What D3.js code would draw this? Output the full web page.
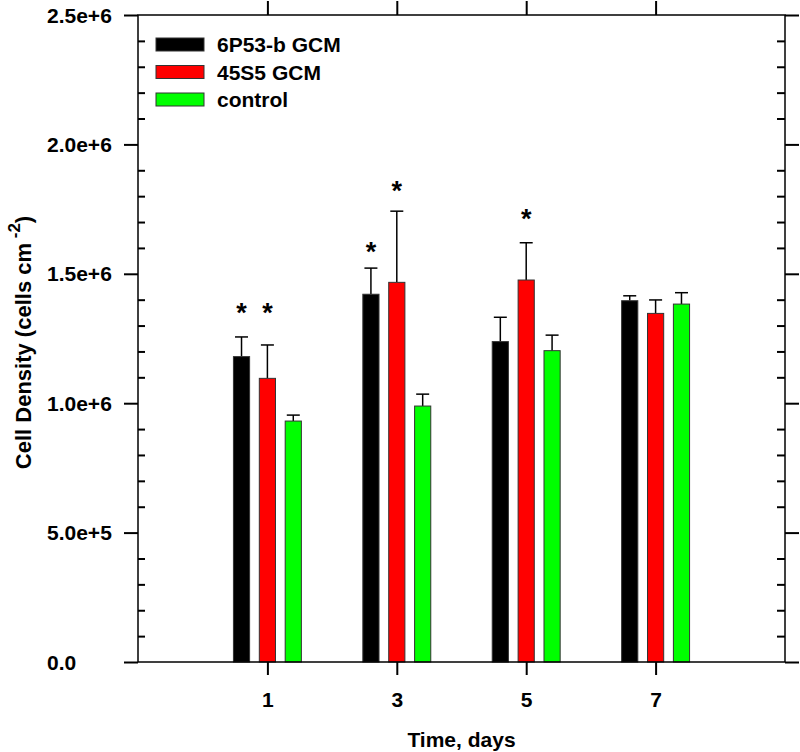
<!DOCTYPE html>
<html>
<head>
<meta charset="utf-8">
<script src="https://cdn.jsdelivr.net/npm/d3@7"></script>
<style>
  html, body { margin: 0; padding: 0; background: #fff; }
  svg { display: block; font-family: "Liberation Sans", Arial, sans-serif; }
</style>
</head>
<body>
<svg id="chart" width="800" height="752"></svg>
<script>
// ---- data ----
const days = [1, 3, 5, 7];
const seriesNames = ["6P53-b GCM", "45S5 GCM", "control"];
const seriesColors = ["#000000", "#ff0000", "#00ff00"];
const mean6P53 = [1180000, 1421000, 1238000, 1396000];
const err6P53  = [76000, 101000, 94000, 19000];
const mean45S5 = [1096000, 1467000, 1476000, 1347000];
const err45S5  = [129000, 275000, 144000, 52000];
const meanCtrl = [931000, 989000, 1203000, 1383000];
const errCtrl  = [23000, 46000, 60000, 44000];
// significance markers: [series index, day index, level of the asterisk]
const stars = [[0, 0, 1372000], [1, 0, 1372000], [0, 1, 1607000], [1, 1, 1843000], [1, 2, 1735000]];
const yMajorTicks = [0, 500000, 1000000, 1500000, 2000000, 2500000];
const yTickLabels = ["0.0", "5.0e+5", "1.0e+6", "1.5e+6", "2.0e+6", "2.5e+6"];
const xTickValues = [1, 3, 5, 7];

const means = [mean6P53, mean45S5, meanCtrl];
const errs = [err6P53, err45S5, errCtrl];

// ---- layout ----
const L = 138, R = 785, T = 15, B = 662;
const svg = d3.select("#chart");
const x = d3.scaleLinear().domain([-1, 9]).range([L, R]);
const y = d3.scaleLinear().domain([0, 2500000]).range([B, T]);
const offsets = [-0.4, 0, 0.4];
const barW = 0.25;

const yMinor = d3.range(0, 2500001, 100000).filter(v => v % 500000 !== 0);

// bars
const bars = [];
means.forEach((arr, s) => arr.forEach((v, i) => bars.push({s, i, v, e: errs[s][i]})));

// error bars
const eg = svg.append("g");
bars.forEach(d => {
  const cx = x(days[d.i] + offsets[d.s]);
  eg.append("line").attr("x1", cx).attr("x2", cx)
    .attr("y1", y(d.v)).attr("y2", y(d.v + d.e))
    .attr("stroke", "#000").attr("stroke-width", 1.5);
  eg.append("line").attr("x1", cx - 6.5).attr("x2", cx + 6.5)
    .attr("y1", y(d.v + d.e)).attr("y2", y(d.v + d.e))
    .attr("stroke", "#000").attr("stroke-width", 1.5);
});

svg.append("g").selectAll("rect").data(bars).join("rect")
  .attr("x", d => x(days[d.i] + offsets[d.s] - barW / 2))
  .attr("width", d => x(barW) - x(0))
  .attr("y", d => y(d.v))
  .attr("height", d => y(0) - y(d.v))
  .attr("fill", d => seriesColors[d.s])
  .attr("stroke", "#333")
  .attr("stroke-width", 1);

// asterisks
svg.append("g").selectAll("text").data(stars).join("text")
  .attr("x", d => x(days[d[1]] + offsets[d[0]]))
  .attr("y", d => y(d[2]) + 15)
  .attr("text-anchor", "middle")
  .attr("font-size", 27)
  .attr("font-weight", "bold")
  .text("*");

// ---- axes ----
function styleAxis(g) {
  g.select(".domain").remove();
  g.selectAll(".tick line").attr("stroke", "#000").attr("stroke-width", 2);
}
// left major (outward)
styleAxis(svg.append("g").attr("transform", `translate(${L},0)`)
  .call(d3.axisLeft(y).tickValues(yMajorTicks).tickSize(14).tickFormat("")));
// left labels, left-aligned
svg.append("g").selectAll("text").data(yMajorTicks).join("text")
  .attr("x", 47).attr("y", d => y(d)).attr("dy", "0.36em")
  .attr("font-size", 21).attr("font-weight", "bold")
  .text((d, i) => yTickLabels[i]);
// left minor (inward)
styleAxis(svg.append("g").attr("transform", `translate(${L},0)`)
  .call(d3.axisRight(y).tickValues(yMinor).tickSize(7).tickFormat("")));
// right major (outward)
styleAxis(svg.append("g").attr("transform", `translate(${R},0)`)
  .call(d3.axisRight(y).tickValues(yMajorTicks).tickSize(14).tickFormat("")));
// right minor (inward)
styleAxis(svg.append("g").attr("transform", `translate(${R},0)`)
  .call(d3.axisLeft(y).tickValues(yMinor).tickSize(8).tickFormat("")));
// bottom
const gb = svg.append("g").attr("transform", `translate(0,${B})`)
  .call(d3.axisBottom(x).tickValues(xTickValues).tickSize(13).tickPadding(17).tickFormat(d3.format("d")));
styleAxis(gb);
gb.selectAll(".tick text").attr("font-size", 21).attr("font-weight", "bold")
  .attr("fill", "#000").attr("font-family", "Liberation Sans, Arial, sans-serif");
// top
styleAxis(svg.append("g").attr("transform", `translate(0,${T})`)
  .call(d3.axisTop(x).tickValues(xTickValues).tickSize(14).tickFormat("")));

// frame
svg.append("rect").attr("x", L).attr("y", T).attr("width", R - L).attr("height", B - T)
  .attr("fill", "none").attr("stroke", "#000").attr("stroke-width", 1.5);

// titles
svg.append("text").attr("x", (L + R) / 2).attr("y", 747)
  .attr("text-anchor", "middle").attr("font-size", 21).attr("font-weight", "bold")
  .text("Time, days");
const yt = svg.append("text")
  .attr("transform", `translate(31,${(T + B) / 2 + 4}) rotate(-90)`)
  .attr("text-anchor", "middle").attr("font-size", 22).attr("font-weight", "bold");
yt.append("tspan").text("Cell Density (cells cm");
yt.append("tspan").attr("dy", -11).attr("font-size", 17).text(" -2");
yt.append("tspan").attr("dy", 11).text(")");

// legend
const lg = svg.append("g");
seriesNames.forEach((n, i) => {
  const cy = 44.5 + i * 27.5;
  lg.append("rect").attr("x", 156).attr("y", cy - 6.5).attr("width", 48).attr("height", 13)
    .attr("fill", seriesColors[i]).attr("stroke", "#333").attr("stroke-width", 1);
  lg.append("text").attr("x", 217).attr("y", cy).attr("dy", "0.36em")
    .attr("font-size", 21).attr("font-weight", "bold").text(n);
});
</script>
</body>
</html>
